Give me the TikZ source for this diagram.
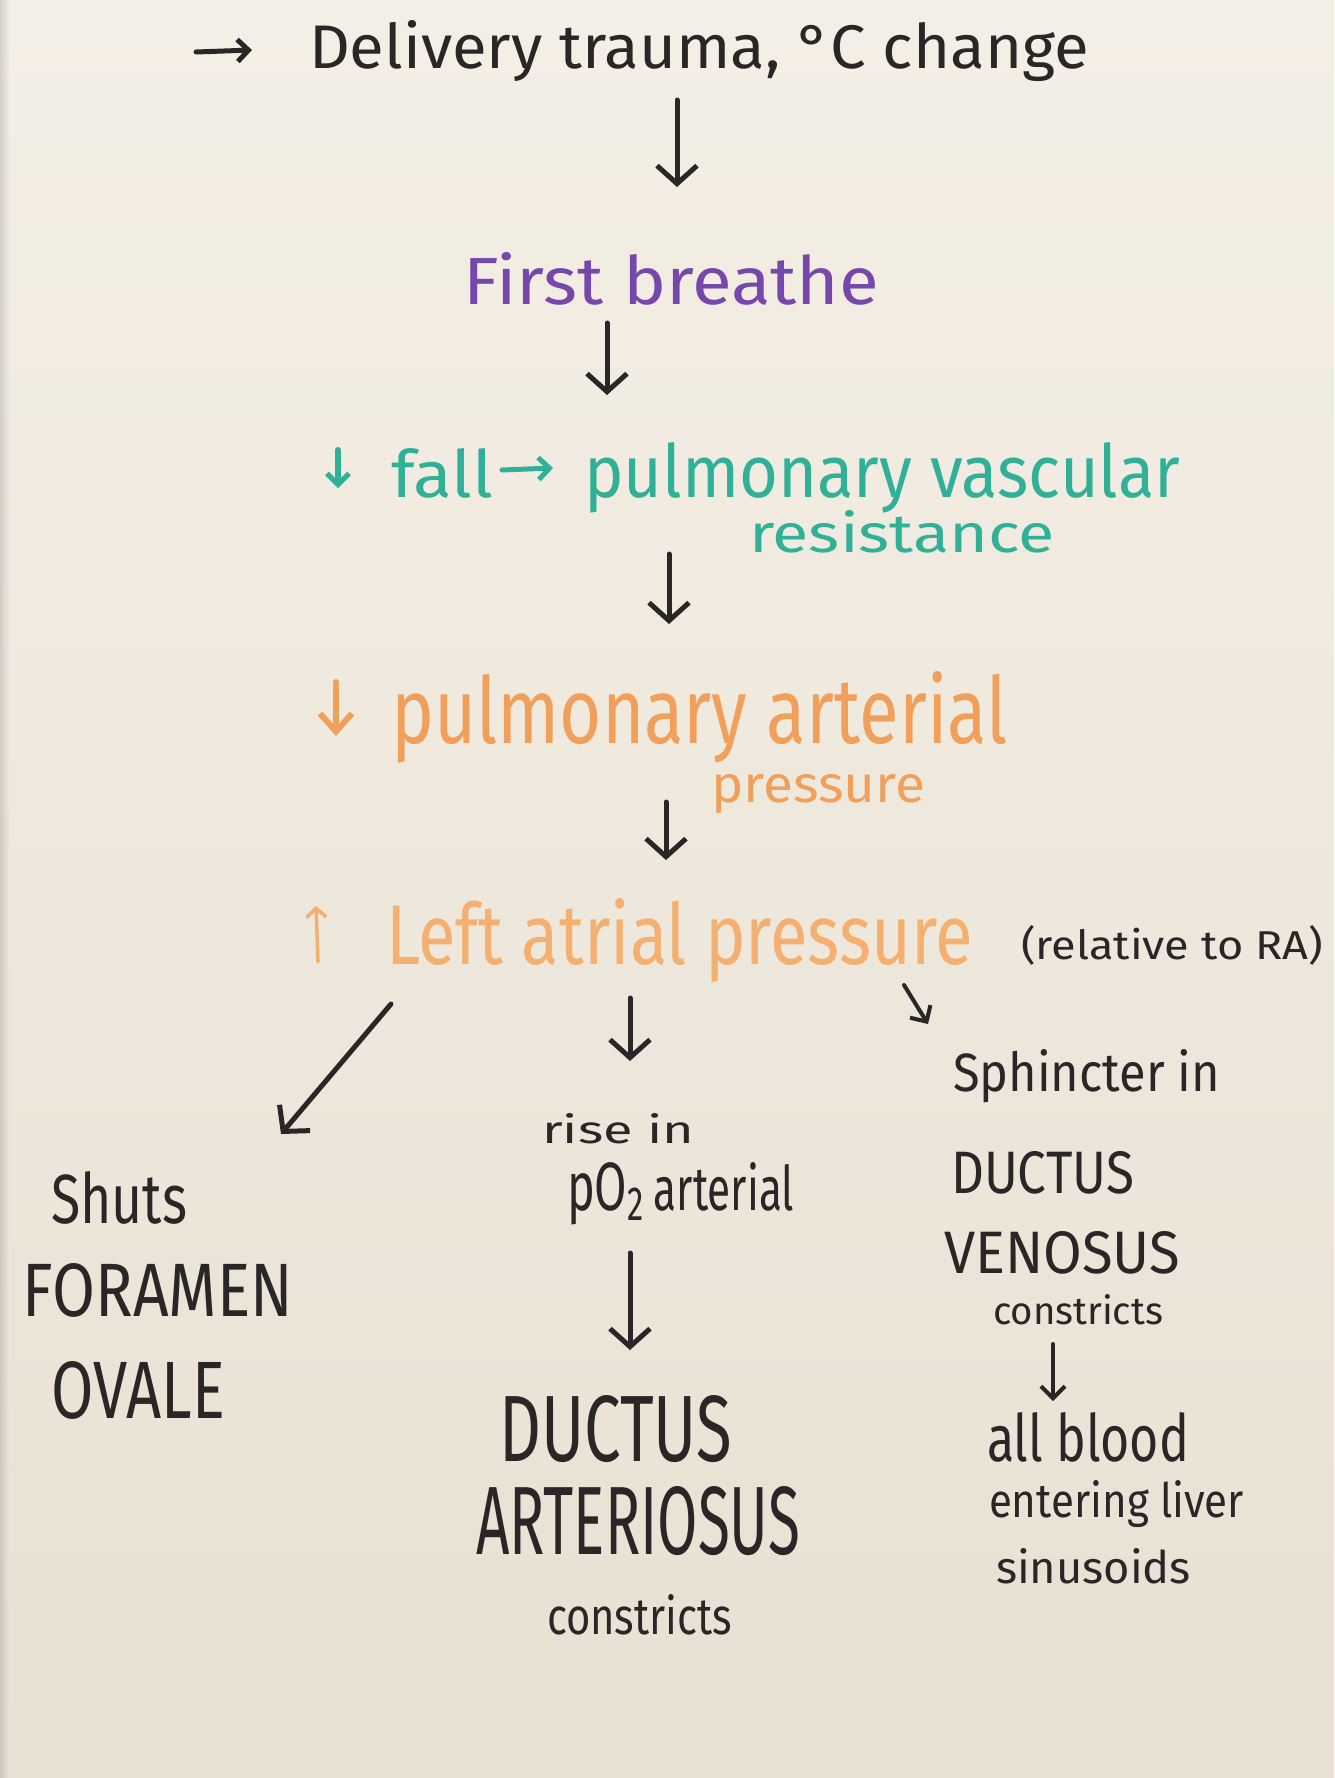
\documentclass[tikz,border=0pt]{standalone}
\usepackage{fontspec}
\setmainfont{Fira Sans}
\usetikzlibrary{arrows.meta}
\definecolor{ink}{RGB}{42,38,40}
\definecolor{violetink}{RGB}{118,72,172}
\definecolor{tealink}{RGB}{48,176,150}
\definecolor{orangeink}{RGB}{240,160,90}
\definecolor{orangelite}{RGB}{244,176,112}
\definecolor{papertop}{RGB}{244,239,230}
\definecolor{paperbot}{RGB}{232,224,210}
\newcommand{\hw}[3]{\resizebox{#1pt}{#2pt}{#3}}
\tikzset{
  txt/.style={anchor=base west, inner sep=0pt, outer sep=0pt},
  arr/.style={draw=ink, line width=5pt, line cap=round, line join=round,
    -{Straight Barb[length=18pt,width=40pt,line width=5pt]}},
  arrs/.style={draw=ink, line width=4pt, line cap=round, line join=round,
    -{Straight Barb[length=12pt,width=24pt,line width=4pt]}},
  sym/.style={line width=5pt, line cap=round, line join=round,
    -{Straight Barb[length=11pt,width=22pt,line width=5pt]}}
}
\begin{document}
\begin{tikzpicture}[x=1pt,y=-1pt]
\useasboundingbox (0,0) rectangle (1334,1778);
\shade[top color=papertop, bottom color=paperbot] (0,0) rectangle (1334,1778);
\shade[left color=black!40, right color=papertop, opacity=0.35] (0,0) rectangle (10,1778);

% top line
\coordinate (ts) at (196,52); \coordinate (te) at (252,50);
\draw[sym, draw=ink] (ts) -- (te);
\node[txt, text=ink] (deliv) at (309,68) {\hw{780}{48}{Delivery trauma, °C change}};

% first breathe
\node[txt, text=violetink] (first) at (463,304) {\hw{416}{52}{First breathe}};

% teal
\coordinate (tds) at (338,450); \coordinate (tde) at (338,488);
\draw[sym, draw=tealink, line width=6pt] (tds) -- (tde);
\node[txt, text=tealink] (fall) at (391,497) {\hw{102}{49}{fall}};
\coordinate (tts) at (502,470); \coordinate (tte) at (553,468);
\draw[sym, draw=tealink] (tts) -- (tte);
\node[txt, text=tealink] (pvr) at (584,497) {\hw{596}{55}{pulmonary vascular}};
\node[txt, text=tealink] (resist) at (749,552) {\hw{306}{42}{resistance}};

% orange 1
\coordinate (ods) at (336,682); \coordinate (ode) at (336,736);
\draw[orangeink, line width=6pt, line cap=round, line join=round,
  -{Straight Barb[length=18pt,width=32pt,line width=6pt]}] (ods) -- (ode);
\node[txt, text=orangeink] (pa) at (391,743) {\hw{616}{72}{pulmonary arterial}};
\node[txt, text=orangeink] (press) at (711,802) {\hw{214}{28}{pressure}};

% orange 2
\coordinate (ous) at (318,962); \coordinate (oue) at (316,906);
\draw[orangelite, line width=3.5pt, line cap=round, line join=round,
  -{Straight Barb[length=9pt,width=20pt,line width=3.5pt]}] (ous) -- (oue);
\node[txt, text=orangelite] (lap) at (386,964) {\hw{587}{66}{Left atrial pressure}};
\node[txt, text=ink] (rel) at (1021,959) {\hw{302}{34}{(relative to RA)}};

% left column
\node[txt, text=ink] (shuts) at (51,1223) {\hw{136}{52}{Shuts}};
\node[txt, text=ink] (foramen) at (23,1316) {\hw{270}{53}{FORAMEN}};
\node[txt, text=ink] (ovale) at (51,1418) {\hw{174}{57}{OVALE}};

% middle column
\node[txt, text=ink] (rise) at (542,1143) {\hw{152}{30}{rise in}};
\node[txt, text=ink] (po2) at (567,1210) {\hw{227}{48}{pO\textsubscript{2}\,{\small arterial}}};
\node[txt, text=ink] (ductm) at (499,1461) {\hw{233}{66}{DUCTUS}};
\node[txt, text=ink] (arter) at (476,1554) {\hw{324}{68}{ARTERIOSUS}};
\node[txt, text=ink] (constm) at (547,1634) {\hw{185}{40}{constricts}};

% right column
\node[txt, text=ink] (sphinc) at (953,1091) {\hw{267}{42}{Sphincter in}};
\node[txt, text=ink] (ductr) at (951,1193) {\hw{183}{42}{DUCTUS}};
\node[txt, text=ink] (venos) at (944,1273) {\hw{236}{42}{VENOSUS}};
\node[txt, text=ink] (constr) at (993,1324) {\hw{170}{30}{constricts}};
\node[txt, text=ink] (allb) at (987,1461) {\hw{202}{49}{all blood}};
\node[txt, text=ink] (enter) at (989,1517) {\hw{255}{37}{entering liver}};
\node[txt, text=ink] (sinus) at (996,1583) {\hw{195}{35}{sinusoids}};

% connector end points
\coordinate (a1s) at (677,100);  \coordinate (a1e) at (677,187);
\coordinate (a2s) at (607,323);  \coordinate (a2e) at (607,395);
\coordinate (a3s) at (669,554);  \coordinate (a3e) at (669,624);
\coordinate (a4s) at (666,802);  \coordinate (a4e) at (666,860);
\coordinate (a5s) at (391,1004); \coordinate (a5e) at (281,1134);
\coordinate (a6s) at (630,998);  \coordinate (a6e) at (630,1061);
\coordinate (a7s) at (904,985);  \coordinate (a7e) at (928,1024);
\coordinate (a8s) at (630,1253); \coordinate (a8e) at (630,1350);
\coordinate (a9s) at (1053,1344); \coordinate (a9e) at (1053,1401);

\draw[arr] (a1s) -- (a1e);
\draw[arr] (a2s) -- (a2e);
\draw[arr] (a3s) -- (a3e);
\draw[arr] (a4s) -- (a4e);
\draw[arr] (a5s) -- (a5e);
\draw[arr] (a6s) -- (a6e);
\draw[arrs] (a7s) -- (a7e);
\draw[arr] (a8s) -- (a8e);
\draw[arrs] (a9s) -- (a9e);
\end{tikzpicture}
\end{document}
